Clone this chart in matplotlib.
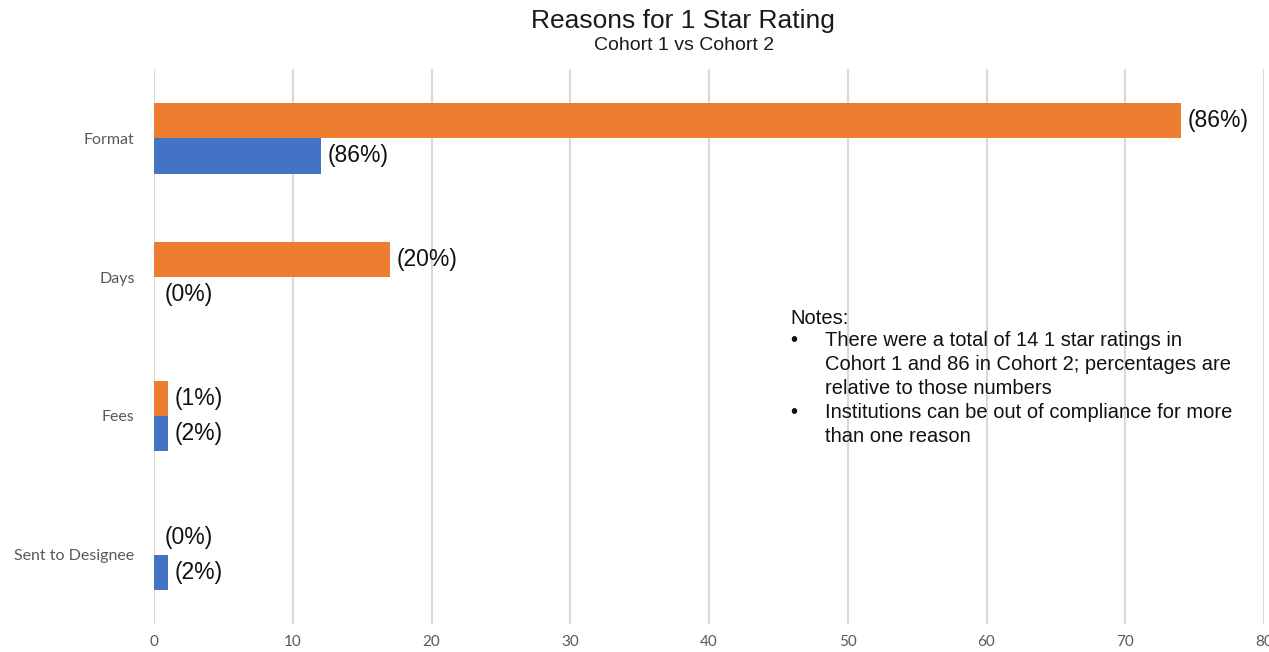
import numpy as np
import matplotlib
matplotlib.use("Agg")
import matplotlib.pyplot as plt

# data
reasons = ["Format", "Days", "Fees", "Sent to Designee"]
cohort2_counts = [74, 17, 1, 0]   # orange, 86 one-star ratings
cohort1_counts = [12, 0, 1, 1]    # blue, 14 one-star ratings
cohort2_labels = ["(86%)", "(20%)", "(1%)", "(0%)"]
cohort1_labels = ["(86%)", "(0%)", "(2%)", "(2%)"]
x_ticks = [0, 10, 20, 30, 40, 50, 60, 70, 80]

ORANGE = "#ED7D31"
BLUE = "#4472C4"
GRAY_TXT = "#595959"

plt.rcParams['font.family'] = ['Liberation Sans', 'DejaVu Sans']

fig = plt.figure(figsize=(12.69, 6.52), dpi=100)
ax = fig.add_axes([154 / 1269, 1 - 624 / 652, 1110 / 1269, 555 / 652])

y = np.arange(len(reasons))
h = 0.254
ax.barh(y - h / 2, cohort2_counts, height=h, color=ORANGE, zorder=3)
ax.barh(y + h / 2, cohort1_counts, height=h, color=BLUE, zorder=3)

# value labels at bar ends (zero bars get a bit more room, as in the original)
for i in range(len(reasons)):
    off2 = 5 if cohort2_counts[i] > 0 else 8
    off1 = 5 if cohort1_counts[i] > 0 else 8
    ax.annotate(cohort2_labels[i], (cohort2_counts[i], y[i] - h / 2),
                xytext=(off2, 0), textcoords="offset points", va="center",
                ha="left", fontsize=16.5, color="#111111")
    ax.annotate(cohort1_labels[i], (cohort1_counts[i], y[i] + h / 2),
                xytext=(off1, 0), textcoords="offset points", va="center",
                ha="left", fontsize=16.5, color="#111111")

ax.set_xlim(0, 80)
ax.set_ylim(len(reasons) - 0.5, -0.5)
ax.set_xticks(x_ticks)
ax.set_yticks(y)
ax.set_yticklabels(reasons, fontfamily="Lato", fontsize=11.5, color=GRAY_TXT)
ax.set_xticklabels([str(t) for t in x_ticks], fontfamily="Lato",
                   fontsize=11, color=GRAY_TXT)
ax.tick_params(axis="both", length=0)
ax.tick_params(axis="y", pad=14)
ax.tick_params(axis="x", pad=8)
ax.grid(axis="x", color="#d9d9d9", linewidth=1.5, zorder=0)
for s in ax.spines.values():
    s.set_visible(False)

fig.text(683 / 1269, 1 - 21 / 652, "Reasons for 1 Star Rating",
         ha="center", va="center", fontsize=19, color="#1a1a1a")
fig.text(684 / 1269, 1 - 45 / 652, "Cohort 1 vs Cohort 2",
         ha="center", va="center", fontsize=14, color="#1a1a1a")

# notes block
notes = [
    (790, 318, "Notes:"),
    (790, 341, "\u2022"), (825, 341, "There were a total of 14 1 star ratings in"),
    (825, 364, "Cohort 1 and 86 in Cohort 2; percentages are"),
    (825, 388, "relative to those numbers"),
    (790, 413, "\u2022"), (825, 413, "Institutions can be out of compliance for more"),
    (825, 437, "than one reason"),
]
for px, py, txt in notes:
    fig.text(px / 1269, 1 - py / 652, txt, ha="left", va="center",
             fontsize=14.5, color="#111111")

fig.savefig("out.png", dpi=100, facecolor="white")
